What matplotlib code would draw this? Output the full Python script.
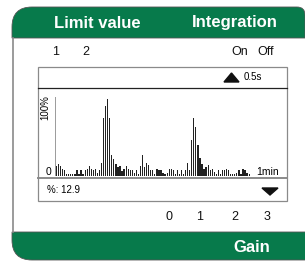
import matplotlib.pyplot as plt
import numpy as np
from matplotlib.path import Path
from matplotlib.patches import PathPatch, Rectangle, Polygon

# bar heights in % of full scale
heights = [13, 15, 13, 9, 8, 3, 3, 3, 2, 3, 7, 3, 8, 3, 8, 9, 13, 9, 8, 9,
           4, 7, 17, 73, 88, 97, 73, 26, 21, 15, 11, 13, 6, 9, 13, 9, 8, 8, 4, 8,
           3, 13, 26, 11, 17, 14, 8, 8, 3,
           9, 8, 8, 4, 3, 4, 9, 9, 8, 3, 7, 3, 8, 3, 7, 17, 8, 46, 73, 62,
           39, 23, 15, 9, 12, 14, 7, 9, 5, 3, 8, 3, 7, 8, 9, 7, 3, 3, 3, 4,
           7, 3, 9, 8, 4, 2]
header_labels = ["Limit value", "Integration"]
top_keys = ["1", "2", "On", "Off"]
bottom_keys = ["0", "1", "2", "3"]
footer_label = "Gain"
percent_text = "%: 12.9"

W, H = 305, 262
green = "#077a4b"
fig = plt.figure(figsize=(W / 100, H / 100), dpi=100)
bg = fig.add_axes([0, 0, 1, 1])
bg.set_xlim(0, W)
bg.set_ylim(H, 0)
bg.axis("off")

# green header with rounded top corners
hdr = Path([(12, 38), (12, 27), (12, 7), (32, 7), (297, 7), (305, 7), (305, 15),
            (305, 38), (12, 38)],
           [Path.MOVETO, Path.LINETO, Path.CURVE3, Path.CURVE3, Path.LINETO,
            Path.CURVE3, Path.CURVE3, Path.LINETO, Path.CLOSEPOLY])
bg.add_patch(PathPatch(hdr, facecolor=green, edgecolor="#555555", lw=0.6))

# green footer with rounded bottom-left corner
ftr = Path([(12, 232), (12, 240), (12, 260), (32, 260), (306, 260), (306, 232), (12, 232)],
           [Path.MOVETO, Path.LINETO, Path.CURVE3, Path.CURVE3, Path.LINETO,
            Path.LINETO, Path.CLOSEPOLY])
bg.add_patch(PathPatch(ftr, facecolor=green, edgecolor="#555555", lw=0.6))

# left border of the panel
bg.plot([12.5, 12.5], [38, 232], color="#8a8a8a", lw=1.2)

bg.text(97, 23, header_labels[0], color="white", fontsize=12, fontweight="bold",
        family="Liberation Sans", ha="center", va="center")
bg.text(235, 23, header_labels[1], color="white", fontsize=12, fontweight="bold",
        family="Liberation Sans", ha="center", va="center")
bg.text(252, 247, footer_label, color="white", fontsize=12, fontweight="bold",
        family="Liberation Sans", ha="center", va="center")

for lab, x in zip(top_keys, [56, 86, 240, 266]):
    bg.text(x, 52, lab, fontsize=9, family="Liberation Sans", ha="center", va="center",
            color="#111111")
for lab, x in zip(bottom_keys, [169.5, 200, 235, 267]):
    bg.text(x, 217, lab, fontsize=9, family="Liberation Sans", ha="center", va="center",
            color="#111111")

# display box
bg.add_patch(Rectangle((38, 67), 249, 134, facecolor="white", edgecolor="#8a8a8a", lw=0.9))
bg.plot([38, 287], [88, 88], color="#222222", lw=0.9)
bg.plot([38, 287], [177.5, 177.5], color="#8a8a8a", lw=1.4)
bg.add_patch(Polygon([(224, 82), (231.5, 73), (239, 82)], closed=True, color="#111111"))
bg.text(244, 77.5, "0.5s", fontsize=7, family="Liberation Sans", va="center")
bg.add_patch(Polygon([(262, 188), (278, 188), (270, 195)], closed=True, color="#111111"))
bg.text(47, 190, percent_text, fontsize=7, family="Liberation Sans", va="center")
bg.text(45, 108, "100%", fontsize=7, family="Liberation Sans", rotation=90,
        ha="center", va="center")
bg.text(48, 172, "0", fontsize=7.5, family="Liberation Sans", ha="center", va="center")
bg.text(256, 172, "1min", fontsize=7.5, family="Liberation Sans", va="center")

# bar chart
n = len(heights)
step = 2.05
left, base, top = 55, 176, 97
ax = fig.add_axes([left / W, 1 - base / H, (n + 0.7) * step / W, (base - top) / H])
ax.bar(np.arange(n), heights, width=0.6, color="#222222", linewidth=0)
ax.set_xlim(-0.7, n)
ax.set_ylim(0, 100)
ax.axis("off")
ax.axvline(-0.7, color="#8a8a8a", lw=1.2)

fig.savefig("out.png", dpi=100)
